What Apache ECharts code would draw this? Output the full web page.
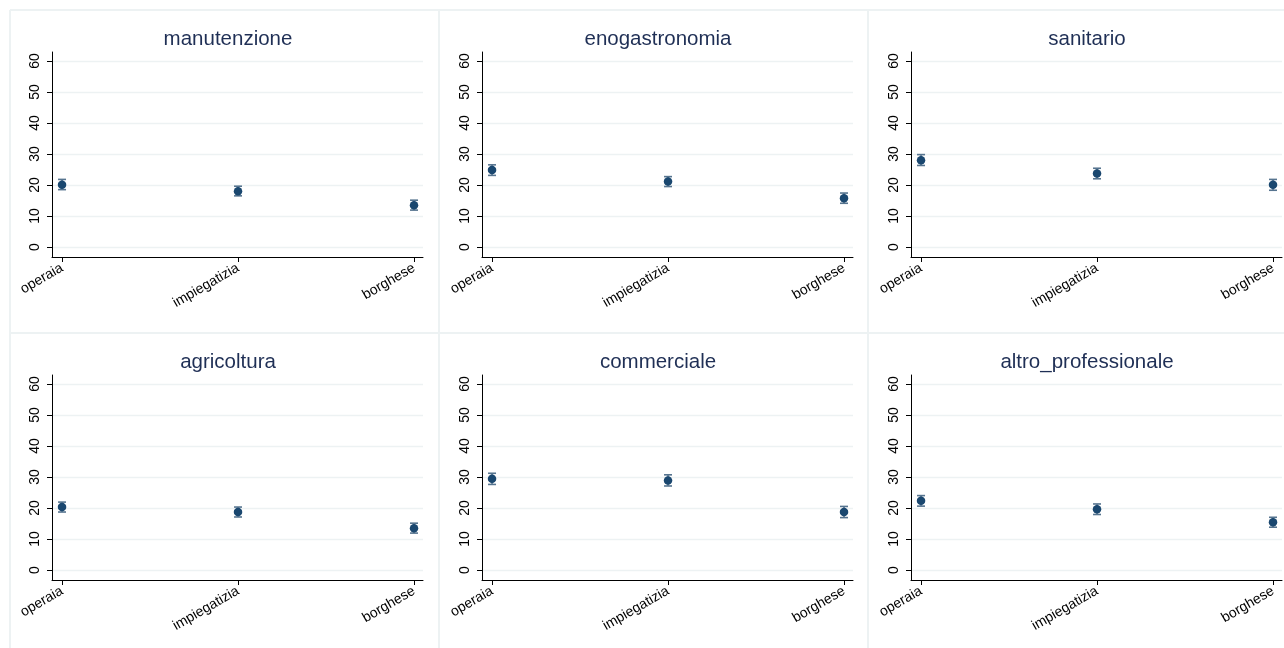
<!DOCTYPE html>
<html>
<head>
<meta charset="utf-8">
<script src="https://cdn.jsdelivr.net/npm/echarts@6/dist/echarts.min.js"></script>
<style>
html,body{margin:0;padding:0;background:#fff;}
#chart{width:1284px;height:648px;}
</style>
</head>
<body>
<div id="chart"></div>
<script>
const categories = ['operaia', 'impiegatizia', 'borghese'];
const yTicks = [0, 10, 20, 30, 40, 50, 60];
const panelTitles = ['manutenzione', 'enogastronomia', 'sanitario', 'agricoltura', 'commerciale', 'altro_professionale'];

const manutenzione = [20.1, 18.0, 13.5];
const manutenzioneLow = [18.5, 16.5, 11.9];
const manutenzioneHigh = [21.8, 19.6, 15.1];

const enogastronomia = [24.8, 21.1, 15.7];
const enogastronomiaLow = [23.1, 19.5, 14.1];
const enogastronomiaHigh = [26.5, 22.7, 17.4];

const sanitario = [28.0, 23.7, 20.1];
const sanitarioLow = [26.3, 22.0, 18.3];
const sanitarioHigh = [29.8, 25.4, 21.8];

const agricoltura = [20.3, 18.7, 13.5];
const agricolturaLow = [18.7, 17.1, 11.9];
const agricolturaHigh = [21.9, 20.3, 15.1];

const commerciale = [29.4, 28.9, 18.7];
const commercialeLow = [27.6, 27.1, 16.9];
const commercialeHigh = [31.2, 30.7, 20.5];

const altroProfessionale = [22.3, 19.6, 15.4];
const altroProfessionaleLow = [20.6, 17.9, 13.8];
const altroProfessionaleHigh = [24.0, 21.3, 17.0];

const panelValues = [manutenzione, enogastronomia, sanitario, agricoltura, commerciale, altroProfessionale];
const panelLow = [manutenzioneLow, enogastronomiaLow, sanitarioLow, agricolturaLow, commercialeLow, altroProfessionaleLow];
const panelHigh = [manutenzioneHigh, enogastronomiaHigh, sanitarioHigh, agricolturaHigh, commercialeHigh, altroProfessionaleHigh];

const FONT = "'Liberation Sans', Arial, Helvetica, sans-serif";
const MARK = '#1a476f';
const CAP = '#56748f';
const GRIDC = '#edf2f3';

const colLeft = [52, 482, 911];
const rowTop = [52, 375];
const titleX = [223, 653, 1082];
const titleTop = [24, 347];

const grids = [], xAxes = [], yAxes = [], series = [], titles = [];

for (let i = 0; i < 6; i++) {
  const c = i % 3, r = Math.floor(i / 3);
  grids.push({ left: colLeft[c], top: rowTop[r], width: 371, height: 205 });
  xAxes.push({
    gridIndex: i, type: 'value', min: -0.057, max: 2.051,
    axisLine: { show: true, onZero: false, lineStyle: { color: '#000', width: 1 } },
    axisTick: { show: true, length: 5, customValues: [0, 1, 2], lineStyle: { color: '#000' } },
    axisLabel: { show: true, customValues: [0, 1, 2], rotate: 30, margin: 10, fontSize: 14, color: '#000', fontFamily: FONT,
      formatter: v => categories[Math.round(v)] },
    splitLine: { show: false }
  });
  yAxes.push({
    gridIndex: i, type: 'value', min: -3.23, max: 62.9,
    axisLine: { show: true, onZero: false, lineStyle: { color: '#000', width: 1 } },
    axisTick: { show: true, length: 5, customValues: yTicks, lineStyle: { color: '#000' } },
    axisLabel: { show: true, customValues: yTicks, rotate: 90, margin: 10, fontSize: 14, color: '#000', fontFamily: FONT },
    splitLine: { show: true, lineStyle: { color: GRIDC, width: 1.3 } }
  });
  titles.push({
    text: panelTitles[i], left: titleX[c], top: titleTop[r], textAlign: 'center',
    textStyle: { fontSize: 20.5, fontWeight: 'normal', color: '#1f2f55', fontFamily: FONT }
  });
  const ebData = categories.map((_, k) => [k, panelLow[i][k], panelHigh[i][k]]);
  series.push({
    type: 'custom', xAxisIndex: i, yAxisIndex: i, data: ebData, silent: true, z: 3,
    renderItem: function (params, api) {
      const x = api.value(0);
      const lo = api.coord([x, api.value(1)]);
      const hi = api.coord([x, api.value(2)]);
      const hw = 4;
      const st = { stroke: CAP, lineWidth: 1.6 };
      return {
        type: 'group',
        children: [
          { type: 'line', shape: { x1: lo[0], y1: lo[1], x2: hi[0], y2: hi[1] }, style: st },
          { type: 'line', shape: { x1: lo[0] - hw, y1: lo[1], x2: lo[0] + hw, y2: lo[1] }, style: st },
          { type: 'line', shape: { x1: hi[0] - hw, y1: hi[1], x2: hi[0] + hw, y2: hi[1] }, style: st }
        ]
      };
    }
  });
  series.push({
    type: 'scatter', xAxisIndex: i, yAxisIndex: i, z: 4, silent: true,
    symbol: 'circle', symbolSize: 8.5,
    itemStyle: { color: MARK, opacity: 1 },
    data: categories.map((_, k) => [k, panelValues[i][k]])
  });
}

const borderStyle = { stroke: GRIDC, lineWidth: 2 };
const graphic = [
  { type: 'line', shape: { x1: 10, y1: 10, x2: 1284, y2: 10 }, style: borderStyle, silent: true },
  { type: 'line', shape: { x1: 10, y1: 333, x2: 1284, y2: 333 }, style: borderStyle, silent: true },
  { type: 'line', shape: { x1: 10, y1: 10, x2: 10, y2: 648 }, style: borderStyle, silent: true },
  { type: 'line', shape: { x1: 439, y1: 10, x2: 439, y2: 648 }, style: borderStyle, silent: true },
  { type: 'line', shape: { x1: 868, y1: 10, x2: 868, y2: 648 }, style: borderStyle, silent: true }
];

const chart = echarts.init(document.getElementById('chart'), null, { renderer: 'canvas' });
chart.setOption({
  animation: false,
  backgroundColor: '#fff',
  title: titles,
  grid: grids,
  xAxis: xAxes,
  yAxis: yAxes,
  series: series,
  graphic: graphic
});
</script>
</body>
</html>
